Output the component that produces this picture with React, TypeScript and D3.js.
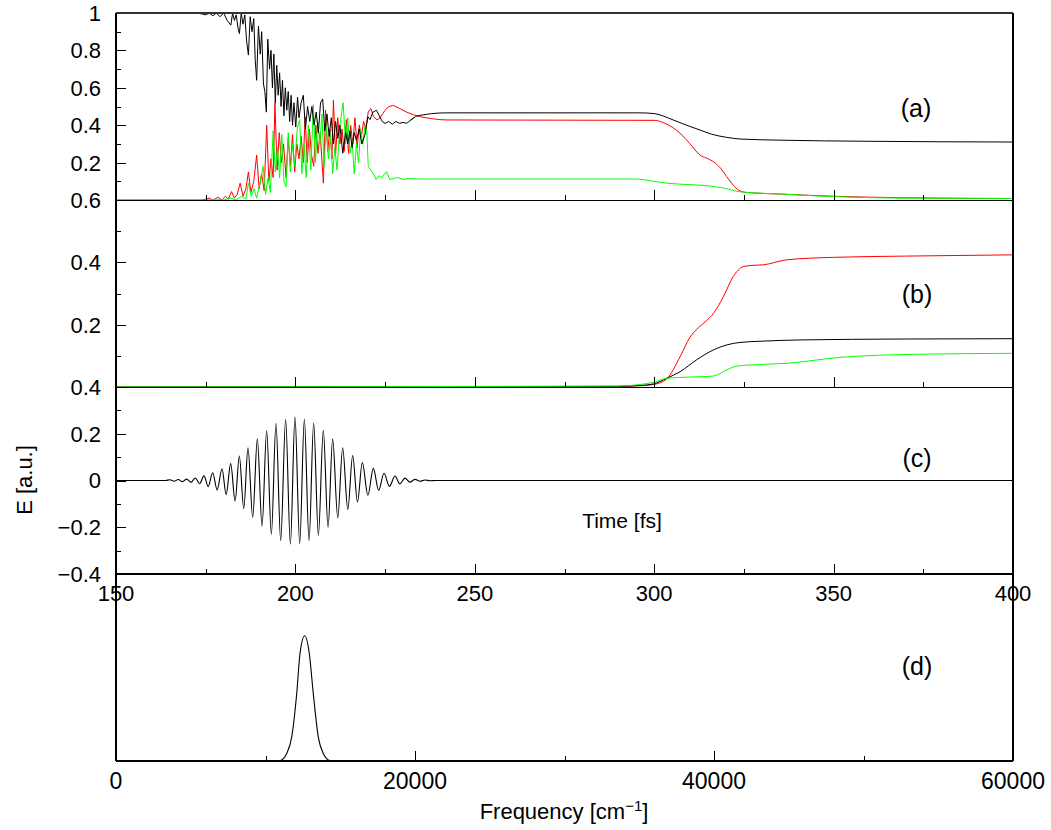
import React from 'react';
import * as d3 from 'd3';

// ---------- data ----------
// Panel (a): populations vs time [fs]
const popBlackA: [number, number][] = [
  [150, 1.0], [172, 1.0], [174, 0.995], [175, 0.99], [176, 1.0], [177, 0.985], [178, 1.0], [179, 0.98],
  [180, 1.0], [181, 0.96], [182, 0.935], [182.5, 1.0], [183, 0.96], [183.5, 0.99], [184, 0.92],
  [184.4, 0.89], [184.9, 1.0], [185.4, 0.94], [185.9, 0.99], [186.4, 0.85], [186.9, 0.775], [187.4, 0.98],
  [187.9, 0.9], [188.4, 0.97], [188.8, 0.75], [189.2, 0.64], [189.7, 0.93], [190.2, 0.78], [190.6, 0.9],
  [191.1, 0.62], [191.5, 0.58], [191.9, 0.47], [192.3, 0.86], [192.8, 0.7], [193.2, 0.8], [193.6, 0.6],
  [194, 0.78], [194.4, 0.52], [194.8, 0.72], [195.2, 0.56], [195.6, 0.68], [196, 0.5], [196.4, 0.64],
  [196.8, 0.45], [197.2, 0.6], [197.6, 0.48], [198, 0.58], [198.4, 0.42], [198.8, 0.56], [199.2, 0.4],
  [199.6, 0.52], [200.1, 0.39], [200.6, 0.55], [201, 0.44], [201.6, 0.52], [202.2, 0.56], [202.8, 0.38],
  [203.4, 0.5], [204, 0.42], [204.6, 0.5], [205.2, 0.4], [205.8, 0.47], [206.4, 0.36], [207, 0.52],
  [207.6, 0.54], [208.2, 0.37], [208.8, 0.46], [209.4, 0.34], [210, 0.44], [210.6, 0.3], [211.2, 0.42],
  [211.8, 0.33], [212.4, 0.4], [213.2, 0.25], [214, 0.36], [214.6, 0.3], [215.2, 0.37], [215.8, 0.28],
  [216.4, 0.36], [217, 0.32], [217.8, 0.38], [218.5, 0.3], [219.4, 0.35], [220.2, 0.445], [220.8, 0.43],
  [221.6, 0.47], [222.6, 0.48], [223.4, 0.45], [224.2, 0.42], [225, 0.41], [226, 0.42], [227, 0.405],
  [228, 0.42], [229, 0.41], [230, 0.415], [231, 0.41], [232, 0.425], [233, 0.44], [234, 0.45],
  [235.6, 0.455], [238, 0.462], [242, 0.466], [296, 0.466], [300, 0.462], [305.3, 0.428], [309, 0.4],
  [312.8, 0.374], [316, 0.352], [320.2, 0.335], [324, 0.326], [335, 0.32], [360, 0.314], [400, 0.31],
];
const popRedA: [number, number][] = [
  [150, 0], [174, 0], [176, 0.01], [177, 0], [178.5, 0.015], [179.5, 0], [180.5, 0.02], [181.3, 0.005],
  [182.2, 0.045], [183, 0.01], [183.8, 0.03], [184.6, 0.09], [185.4, 0.02], [186.2, 0.06], [186.9, 0.15],
  [187.6, 0.04], [188.4, 0.1], [189.2, 0.24], [189.9, 0.06], [190.6, 0.14], [191.3, 0.05], [192, 0.4],
  [192.6, 0.1], [193.2, 0.22], [193.8, 0.12], [194.3, 0.52], [194.9, 0.16], [195.5, 0.36], [196.1, 0.2],
  [196.7, 0.3], [197.4, 0.12], [198, 0.33], [198.6, 0.18], [199.2, 0.35], [199.8, 0.15], [200.4, 0.3],
  [201, 0.22], [201.6, 0.34], [202.2, 0.2], [202.7, 0.445], [203.3, 0.2], [203.9, 0.38], [204.5, 0.24],
  [205.1, 0.18], [205.7, 0.4], [206.3, 0.25], [206.9, 0.36], [207.8, 0.09], [208.4, 0.48], [209, 0.26],
  [209.6, 0.38], [210.2, 0.22], [210.6, 0.535], [211.2, 0.24], [211.8, 0.44], [212.4, 0.3], [213, 0.38],
  [213.6, 0.26], [214.2, 0.43], [214.8, 0.25], [215.4, 0.4], [216, 0.3], [216.6, 0.44], [217.2, 0.28],
  [217.8, 0.4], [218.4, 0.34], [219, 0.42], [219.6, 0.38], [220.3, 0.47], [221, 0.49], [221.7, 0.45],
  [222.7, 0.428], [223.6, 0.44], [225, 0.48], [226, 0.5], [227.3, 0.505], [229, 0.49], [231, 0.47],
  [233, 0.455], [235, 0.445], [238, 0.435], [242, 0.428], [300, 0.426], [303, 0.41], [305, 0.39],
  [307.2, 0.357], [310, 0.3], [312.8, 0.24], [314.5, 0.225], [316.5, 0.205], [318.5, 0.17],
  [320.2, 0.125], [322, 0.08], [323.5, 0.053], [325.8, 0.04], [335, 0.032], [350, 0.02], [370, 0.012],
  [400, 0.008],
];
const popGreenA: [number, number][] = [
  [150, 0], [175, 0], [178, 0.005], [180, 0], [182, 0.01], [183.5, 0], [185, 0.02], [186.2, 0.005],
  [186.9, 0.09], [187.7, 0.02], [188.5, 0.06], [189.2, 0.01], [190, 0.08], [191, 0.18], [191.7, 0.03],
  [192.4, 0.12], [193, 0.04], [193.8, 0.37], [194.4, 0.15], [195, 0.28], [195.6, 0.12], [196.2, 0.35],
  [196.8, 0.1], [197.4, 0.07], [198, 0.36], [198.6, 0.15], [199.2, 0.3], [199.8, 0.18], [200.5, 0.38],
  [201.2, 0.43], [201.8, 0.14], [202.4, 0.3], [203, 0.12], [203.6, 0.4], [204.3, 0.16], [205, 0.51],
  [205.6, 0.2], [206.2, 0.42], [206.8, 0.3], [207.4, 0.46], [208, 0.18], [208.6, 0.4], [209.2, 0.22],
  [209.8, 0.35], [210.4, 0.14], [211, 0.28], [211.6, 0.16], [212.4, 0.4], [213.3, 0.52], [214, 0.3],
  [214.6, 0.44], [215.2, 0.25], [215.8, 0.32], [216.4, 0.14], [217, 0.3], [217.6, 0.2], [218.2, 0.38],
  [218.8, 0.3], [219.4, 0.4], [219.9, 0.37], [220.3, 0.18], [221, 0.16], [221.7, 0.143], [222.5, 0.11],
  [223.3, 0.13], [224, 0.12], [225.4, 0.151], [226.3, 0.11], [227.5, 0.115], [228.5, 0.12], [230, 0.11],
  [232, 0.115], [235, 0.112], [295, 0.112], [300, 0.1], [303.5, 0.09], [310, 0.082], [315.5, 0.075],
  [319, 0.065], [323.9, 0.044], [335, 0.032], [345, 0.022], [355, 0.015], [370, 0.01], [400, 0.008],
];

// Panel (b)
const popBlackB: [number, number][] = [
  [150, 0], [290, 0.002], [296, 0.005], [299.8, 0.01], [303.5, 0.028], [307.2, 0.049], [311.8, 0.087],
  [316.5, 0.119], [320.2, 0.135], [323.9, 0.143], [330, 0.147], [340.6, 0.151], [370, 0.154], [400, 0.155],
];
const popRedB: [number, number][] = [
  [150, 0], [290, 0.002], [296, 0.004], [299.8, 0.008], [303.5, 0.026], [307.2, 0.097], [310, 0.16],
  [312.3, 0.19], [314.5, 0.212], [316.5, 0.236], [319.3, 0.29], [322, 0.354], [324.8, 0.386],
  [327, 0.39], [330.4, 0.392], [336.9, 0.408], [349.9, 0.416], [370, 0.42], [400, 0.424],
];
const popGreenB: [number, number][] = [
  [150, 0], [290, 0.003], [296, 0.008], [299.8, 0.015], [303.5, 0.028], [310, 0.032], [316.5, 0.035],
  [320.2, 0.055], [323, 0.067], [325.8, 0.07], [336.9, 0.076], [351.8, 0.095], [373.1, 0.105],
  [400, 0.108],
];

// Panel (c): electric field extrema
const pulseField: [number, number][] = [
  [150, 0], [163.8, 0],
  [165.05, 0.003], [166.2, -0.003], [167.37, 0.004], [168.5, -0.005], [169.69, 0.006], [170.9, -0.008],
  [172.11, 0.011], [173.3, -0.014], [174.52, 0.02], [175.7, -0.026], [176.94, 0.033], [178.2, -0.04],
  [179.54, 0.05], [180.7, -0.06], [181.96, 0.072], [183.2, -0.088], [184.37, 0.105], [185.6, -0.12],
  [186.79, 0.14], [188.1, -0.158], [189.39, 0.178], [190.7, -0.195], [191.99, 0.213], [193.3, -0.23],
  [194.59, 0.245], [195.9, -0.258], [197.28, 0.262], [198.6, -0.272], [199.89, 0.271], [201.2, -0.27],
  [202.49, 0.263], [203.8, -0.258], [205.09, 0.247], [206.4, -0.235], [207.78, 0.215], [209.1, -0.2],
  [210.38, 0.178], [211.8, -0.16], [213.17, 0.14], [214.6, -0.124], [215.96, 0.107], [217.3, -0.092],
  [218.65, 0.077], [220.2, -0.063], [221.72, 0.052], [223.2, -0.042], [224.69, 0.031], [226.2, -0.025],
  [227.76, 0.019], [229.1, -0.014], [230.54, 0.01], [231.9, -0.007], [233.33, 0.005], [234.7, -0.003],
  [236.12, 0.002], [237.5, -0.001], [239, 0], [400, 0],
];

// Panel (d): spectrum
const spectrum: [number, number][] = [
  [0, 0], [10500, 0], [10970, 0.002], [11418, 0.04], [11752, 0.128], [12087, 0.36], [12308, 0.575],
  [12622, 0.67], [12930, 0.575], [13197, 0.36], [13532, 0.128], [13866, 0.04], [14314, 0.002],
  [14800, 0], [60000, 0],
];

const timeTicks = [150, 175, 200, 225, 250, 275, 300, 325, 350, 375, 400];
const timeLabels = [150, 200, 250, 300, 350, 400];
const ticksA = [0.1, 0.2, 0.3, 0.4, 0.5, 0.6, 0.7, 0.8, 0.9];
const labelsA = [1, 0.8, 0.6, 0.4, 0.2];
const ticksB = [0.1, 0.2, 0.3, 0.4, 0.5];
const labelsB = [0.6, 0.4, 0.2];
const ticksC = [-0.3, -0.2, -0.1, 0, 0.1, 0.2, 0.3];
const labelsC = [0.4, 0.2, 0, -0.2, -0.4];
const freqTicks = [10000, 20000, 30000, 40000, 50000];
const freqLabels = [0, 20000, 40000, 60000];

// ---------- layout ----------
const W = 1051, H = 830;
const L = 116, R = 1013;
const TOP_A = 13, B_A = 200, B_B = 387, B_C = 574, B_D = 761;
const NOISY_END = 233; // end of the strongly fluctuating stretch in panel (a)
const FONT = "'Liberation Sans', Arial, Helvetica, sans-serif";

const x = d3.scaleLinear().domain([150, 400]).range([L, R]);
const yA = d3.scaleLinear().domain([0, 1]).range([B_A, TOP_A]);
const yB = d3.scaleLinear().domain([0, 0.6]).range([B_B, B_A]);
const yC = d3.scaleLinear().domain([-0.4, 0.4]).range([B_C, B_B]);
const xD = d3.scaleLinear().domain([0, 60000]).range([L, R]);
const yD = d3.scaleLinear().domain([0, 1]).range([B_D, B_C]);

const fmt = (v: number) => {
  const s = d3.format('~g')(+v.toFixed(3));
  return s.replace('-', '\u2212');
};

function mkLine(xs: d3.ScaleLinear<number, number>, ys: d3.ScaleLinear<number, number>, curve: any = d3.curveLinear) {
  return d3.line<[number, number]>().x(d => xs(d[0])).y(d => ys(d[1])).curve(curve);
}

export default function App() {
  const lAnoisy = mkLine(x, yA, d3.curveLinear);
  const lAsmooth = mkLine(x, yA, d3.curveMonotoneX);
  const pathA = (data: [number, number][]) =>
    (lAnoisy(data.filter(d => d[0] <= NOISY_END)) || '') +
    (lAsmooth(data.filter(d => d[0] >= NOISY_END - 1.5)) || '');
  const lB = mkLine(x, yB, d3.curveMonotoneX);
  const lC = mkLine(x, yC, d3.curveMonotoneX);
  const lD = mkLine(xD, yD, d3.curveMonotoneX);
  const isMajorT = (t: number) => (t - 150) % 50 === 0;

  const yTicks = (scale: d3.ScaleLinear<number, number>, vals: number[], major: number[]) =>
    vals.map((v, i) => {
      const isMaj = major.some(m => Math.abs(m - v) < 1e-6);
      const yy = Math.round(scale(v)) + 0.5;
      return <line key={i} x1={L} x2={L + (isMaj ? 10 : 5)} y1={yy} y2={yy} stroke="#000" strokeWidth={1} />;
    });

  const xTicksAt = (base: number) =>
    timeTicks.slice(1, -1).map((t, i) => {
      const xx = Math.round(x(t)) + 0.5;
      return <line key={i} x1={xx} x2={xx} y1={base} y2={base - (isMajorT(t) ? 10 : 5)} stroke="#000" strokeWidth={1} />;
    });

  const yLabels = (scale: d3.ScaleLinear<number, number>, vals: number[]) =>
    vals.map((v, i) => (
      <text key={i} x={101} y={scale(v)} dy="0.36em" textAnchor="end" fontSize={22} fontFamily={FONT}>{fmt(v)}</text>
    ));

  return (
    <svg width={W} height={H} style={{ position: 'absolute', left: 0, top: 0, background: '#fff' }}>
      <rect x={0} y={0} width={W} height={H} fill="#fff" />
      {/* curves */}
      <g fill="none" strokeWidth={1} strokeLinejoin="round">
        <path d={pathA(popRedA)} stroke="#ff0000" />
        <path d={pathA(popGreenA)} stroke="#00ff00" />
        <path d={pathA(popBlackA)} stroke="#000" />
        <path d={lB(popRedB) || ''} stroke="#ff0000" />
        <path d={lB(popBlackB) || ''} stroke="#000" />
        <path d={lB(popGreenB) || ''} stroke="#00ff00" />
        <path d={lC(pulseField) || ''} stroke="#000" strokeWidth={1.1} />
        <path d={lD(spectrum) || ''} stroke="#000" strokeWidth={1.1} />
      </g>

      {/* frame */}
      <g shapeRendering="crispEdges" stroke="#000" strokeWidth={1}>
        <line x1={L} x2={R} y1={TOP_A} y2={TOP_A} stroke="#333" strokeWidth={2} />
        <line x1={L} x2={R} y1={B_A} y2={B_A} />
        <line x1={L} x2={R} y1={B_B} y2={B_B} />
        <line x1={L} x2={R} y1={B_C} y2={B_C} strokeWidth={1.5} />
        <line x1={L} x2={R} y1={B_D} y2={B_D} strokeWidth={1.5} />
        <line x1={L} x2={L} y1={TOP_A} y2={B_D} strokeWidth={1.5} />
        <line x1={R} x2={R} y1={TOP_A} y2={B_D} strokeWidth={1.5} />
      </g>
      <g shapeRendering="crispEdges">
        {yTicks(yA, ticksA, [0.2, 0.4, 0.6, 0.8])}
        {yTicks(yB, ticksB, [0.2, 0.4])}
        {yTicks(yC, ticksC, [-0.2, 0, 0.2])}
        {xTicksAt(B_A)}
        {xTicksAt(B_B)}
        {xTicksAt(B_C)}
        {freqTicks.map((f, i) => {
          const xx = Math.round(xD(f)) + 0.5;
          return <line key={i} x1={xx} x2={xx} y1={B_D} y2={B_D - (f % 20000 === 0 ? 10 : 5)} stroke="#000" />;
        })}
      </g>

      {/* tick labels */}
      {yLabels(yA, labelsA)}
      {yLabels(yB, labelsB)}
      {yLabels(yC, labelsC)}
      {timeLabels.map((t, i) => (
        <text key={i} x={x(t)} y={601} textAnchor="middle" fontSize={22} fontFamily={FONT}>{t}</text>
      ))}
      {freqLabels.map((f, i) => (
        <text key={i} x={xD(f)} y={789} textAnchor="middle" fontSize={23} fontFamily={FONT}>{f}</text>
      ))}

      {/* titles */}
      <text x={622} y={528} textAnchor="middle" fontSize={21} fontFamily={FONT}>Time [fs]</text>
      <text transform={`translate(32,480) rotate(-90)`} textAnchor="middle" fontSize={22} fontFamily={FONT}>E [a.u.]</text>
      <text x={564} y={819} textAnchor="middle" fontSize={22} fontFamily={FONT}>
        Frequency [cm<tspan dy={-8} fontSize={15}>{'\u22121'}</tspan><tspan dy={8}>]</tspan>
      </text>

      {/* panel labels */}
      <text x={916} y={117} textAnchor="middle" fontSize={25} fontFamily={FONT}>(a)</text>
      <text x={917} y={303} textAnchor="middle" fontSize={25} fontFamily={FONT}>(b)</text>
      <text x={917} y={467} textAnchor="middle" fontSize={25} fontFamily={FONT}>(c)</text>
      <text x={917} y={675} textAnchor="middle" fontSize={25} fontFamily={FONT}>(d)</text>
    </svg>
  );
}
